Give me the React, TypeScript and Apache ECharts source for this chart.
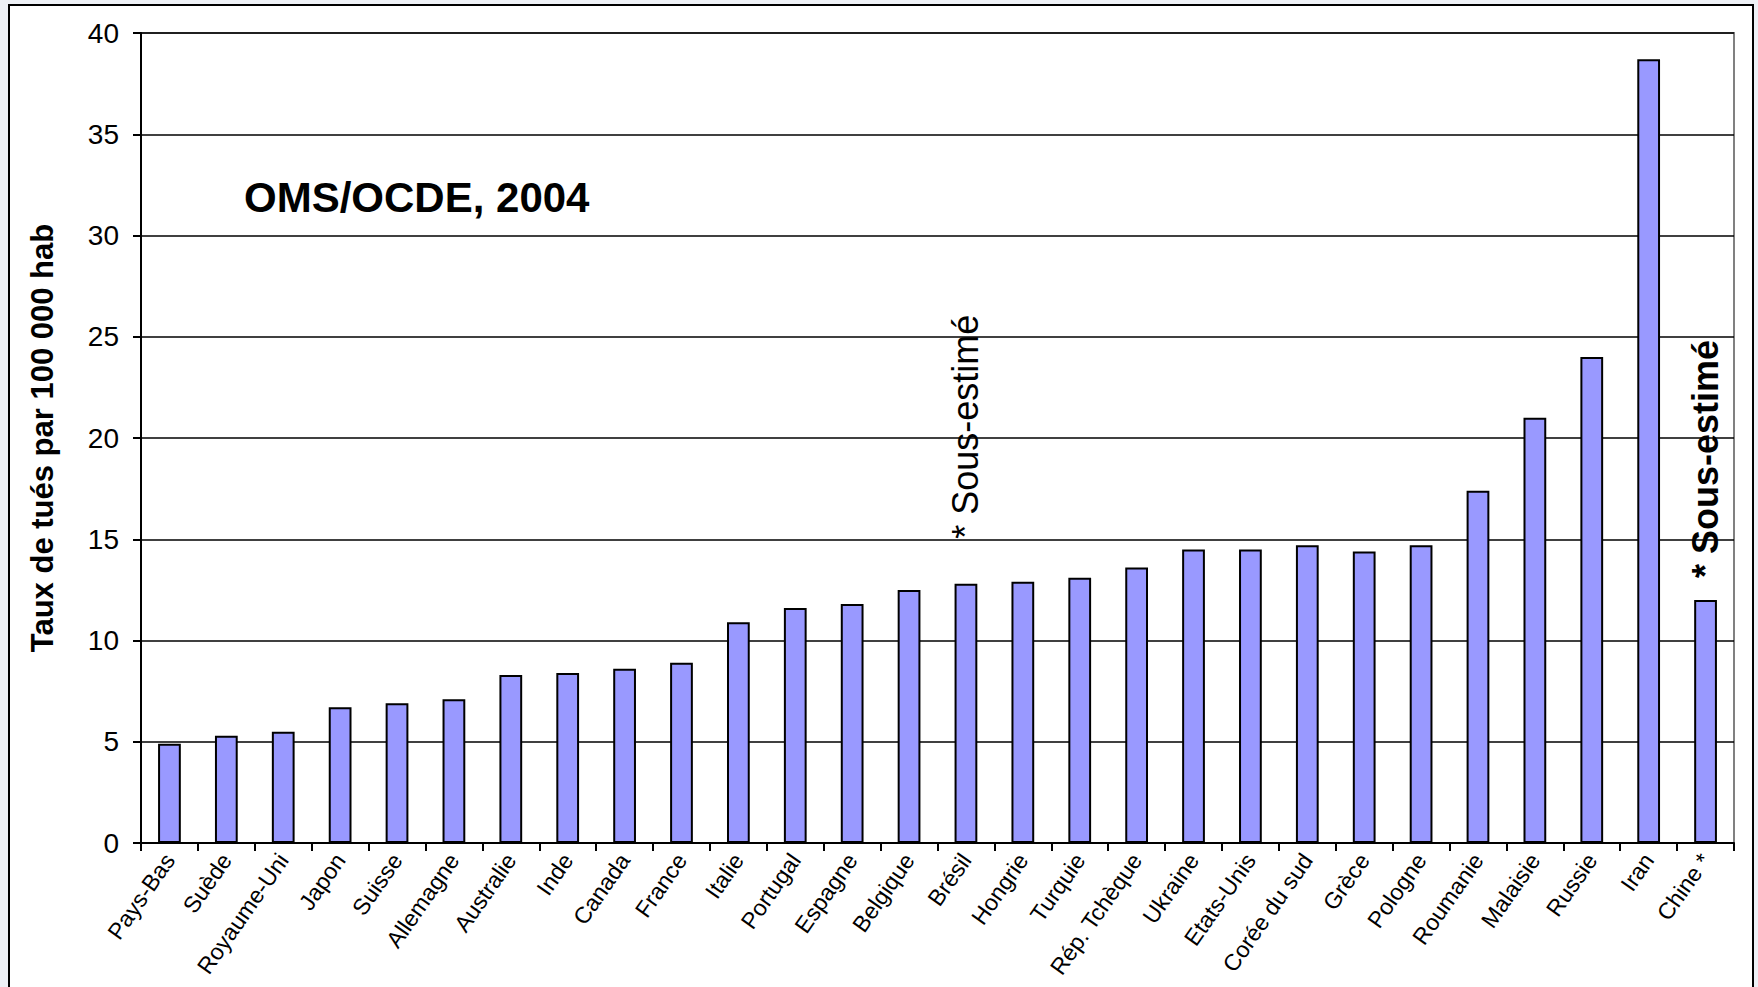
import React, { useEffect, useRef } from "react";
import * as echarts from "echarts";

const categories = [
  "Pays-Bas", "Suède", "Royaume-Uni", "Japon", "Suisse", "Allemagne", "Australie",
  "Inde", "Canada", "France", "Italie", "Portugal", "Espagne", "Belgique", "Brésil",
  "Hongrie", "Turquie", "Rép. Tchèque", "Ukraine", "Etats-Unis", "Corée du sud",
  "Grèce", "Pologne", "Roumanie", "Malaisie", "Russie", "Iran", "Chine *",
];

const values = [
  4.9, 5.3, 5.5, 6.7, 6.9, 7.1, 8.3, 8.4, 8.6, 8.9, 10.9, 11.6, 11.8, 12.5, 12.8,
  12.9, 13.1, 13.6, 14.5, 14.5, 14.7, 14.4, 14.7, 17.4, 21.0, 24.0, 38.7, 12.0,
];

const yTicks = { min: 0, max: 40, interval: 5 };
const titleText = "OMS/OCDE, 2004";
const yAxisName = "Taux de tués par 100 000 hab";
const noteText = "* Sous-estimé";
const noteNormalCategory = "Brésil";
const noteBoldCategory = "Chine *";

const FONT = "'Liberation Sans', Arial, Helvetica, sans-serif";

export default function App() {
  const ref = useRef<HTMLDivElement>(null);

  useEffect(() => {
    if (!ref.current) return;
    const chart = echarts.init(ref.current, null, { renderer: "svg" });

    const data = values.map((v, i) => {
      const cat = categories[i];
      if (cat === noteNormalCategory) {
        return {
          value: v,
          label: {
            show: true,
            position: "top",
            rotate: 90,
            align: "left",
            verticalAlign: "middle",
            distance: 45,
            formatter: noteText,
            fontSize: 36,
            fontFamily: FONT,
            color: "#000",
          },
        };
      }
      if (cat === noteBoldCategory) {
        return {
          value: v,
          label: {
            show: true,
            position: "top",
            rotate: 90,
            align: "left",
            verticalAlign: "middle",
            distance: 22,
            formatter: noteText,
            fontSize: 36,
            fontWeight: "bold",
            fontFamily: FONT,
            color: "#000",
          },
        };
      }
      return v;
    });

    chart.setOption({
      animation: false,
      backgroundColor: "#eef1f6",
      textStyle: { fontFamily: FONT, color: "#000" },
      graphic: [
        {
          type: "rect",
          z: -10,
          shape: { x: 9, y: 5, width: 1744, height: 1000 },
          style: { fill: "#ffffff", stroke: "#000", lineWidth: 2 },
          silent: true,
        },
        {
          type: "text",
          left: 244,
          top: 176,
          style: {
            text: titleText,
            fontSize: 42,
            fontWeight: "bold",
            fontFamily: FONT,
            fill: "#000",
          },
        },
      ],
      grid: {
        left: 141,
        right: 24,
        top: 33,
        bottom: 144,
        containLabel: false,
        outerBoundsMode: "none",
        show: true,
        borderColor: "#808080",
        borderWidth: 2,
        backgroundColor: "transparent",
      },
      xAxis: {
        type: "category",
        data: categories,
        axisLine: { lineStyle: { color: "#000", width: 2 } },
        axisTick: { show: true, length: 8, lineStyle: { color: "#000", width: 2 } },
        axisLabel: {
          interval: 0,
          rotate: 55,
          fontSize: 23,
          margin: 13,
          color: "#000",
          fontFamily: FONT,
        },
      },
      yAxis: {
        type: "value",
        min: yTicks.min,
        max: yTicks.max,
        interval: yTicks.interval,
        name: yAxisName,
        nameLocation: "middle",
        nameGap: 83,
        nameTextStyle: {
          fontSize: 31,
          fontWeight: "bold",
          color: "#000",
          fontFamily: FONT,
        },
        axisLine: { show: true, lineStyle: { color: "#000", width: 2 } },
        axisTick: { show: true, length: 8, lineStyle: { color: "#000", width: 2 } },
        axisLabel: { fontSize: 28, margin: 22, color: "#000", fontFamily: FONT },
        splitLine: { show: true, lineStyle: { color: "#000", width: 1.5 } },
      },
      series: [
        {
          type: "bar",
          data,
          barWidth: "40%",
          itemStyle: { color: "#9999ff", borderColor: "#000", borderWidth: 2 },
        },
      ],
    });

    return () => chart.dispose();
  }, []);

  return (
    <div
      ref={ref}
      style={{ position: "absolute", left: 0, top: 0, width: 1758, height: 987 }}
    />
  );
}
